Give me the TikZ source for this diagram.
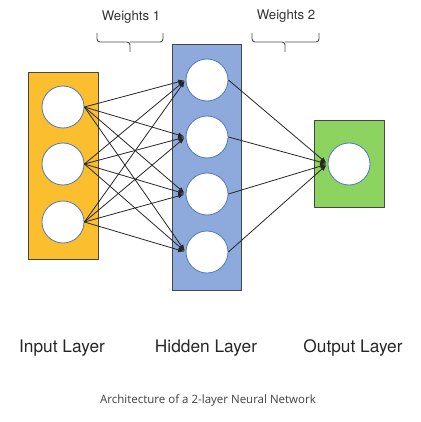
\documentclass[tikz,border=0pt]{standalone}
\usepackage{fontspec}
\setmainfont{TeX Gyre Heros}
\newfontfamily\captionfont{Open Sans}
\usepackage{tikz}
\usetikzlibrary{arrows.meta}

\definecolor{InOrange}{RGB}{251,190,46}
\definecolor{HidBlue}{RGB}{142,169,219}
\definecolor{OutGreen}{RGB}{140,211,95}
\definecolor{RimBlue}{RGB}{79,122,184}
\definecolor{BoxGray}{RGB}{70,70,70}

\tikzset{
  neuron/.style={circle, draw=RimBlue, line width=0.8pt, fill=white, minimum size=42pt, inner sep=0pt},
  layerbox/.style={draw=BoxGray, line width=0.8pt},
  wire/.style={-{Latex[length=6pt,width=5pt]}, line width=0.8pt, black!85, shorten >=1.5pt},
  wbracket/.style={draw=black!70, line width=0.9pt, rounded corners=3pt},
  layername/.style={font=\fontsize{17.3}{20}\selectfont, text=black!85},
  weightname/.style={font=\fontsize{13.2}{16}\selectfont, text=black!80}
}

\begin{document}
\begin{tikzpicture}[x=1pt, y=-1pt]
\useasboundingbox (0,0) rectangle (420,422);

\filldraw[layerbox, fill=InOrange] (28,72) rectangle (98,259);
\filldraw[layerbox, fill=HidBlue] (172,44) rectangle (241,290);
\filldraw[layerbox, fill=OutGreen] (314,120) rectangle (384,207);

\node[neuron] (i1) at (63,107) {};
\node[neuron] (i2) at (63,164) {};
\node[neuron] (i3) at (63,222) {};

\node[neuron] (h1) at (207,80) {};
\node[neuron] (h2) at (207,137) {};
\node[neuron] (h3) at (207,194) {};
\node[neuron] (h4) at (207,252) {};

\node[neuron] (o1) at (349,164) {};

\draw[wire] (i1.east) -- (h1.west);
\draw[wire] (i1.east) -- (h2.west);
\draw[wire] (i1.east) -- (h3.west);
\draw[wire] (i1.east) -- (h4.west);
\draw[wire] (i2.east) -- (h1.west);
\draw[wire] (i2.east) -- (h2.west);
\draw[wire] (i2.east) -- (h3.west);
\draw[wire] (i2.east) -- (h4.west);
\draw[wire] (i3.east) -- (h1.west);
\draw[wire] (i3.east) -- (h2.west);
\draw[wire] (i3.east) -- (h3.west);
\draw[wire] (i3.east) -- (h4.west);

\draw[wire] (h1.east) -- (o1.west);
\draw[wire] (h2.east) -- (o1.west);
\draw[wire] (h3.east) -- (o1.west);
\draw[wire] (h4.east) -- (o1.west);

% weight brackets
\draw[wbracket] (97,33) |- (130,42) -- (130,52) (130,42) -| (163,33);
\draw[wbracket] (252,33) |- (285,42) -- (285,52) (285,42) -| (319,33);
\node[weightname] (w1) at (131,17) {Weights 1};
\node[weightname] (w2) at (286,16) {Weights 2};

\node[layername] (inname) at (62,348) {Input Layer};
\node[layername] (hidname) at (206,348) {Hidden Layer};
\node[layername] (outname) at (353,348) {Output Layer};

\node[font=\captionfont\fontsize{11.5}{14}\selectfont, text=black!75] (cap) at (208,400) {Architecture of a 2-layer Neural Network};

\end{tikzpicture}
\end{document}
